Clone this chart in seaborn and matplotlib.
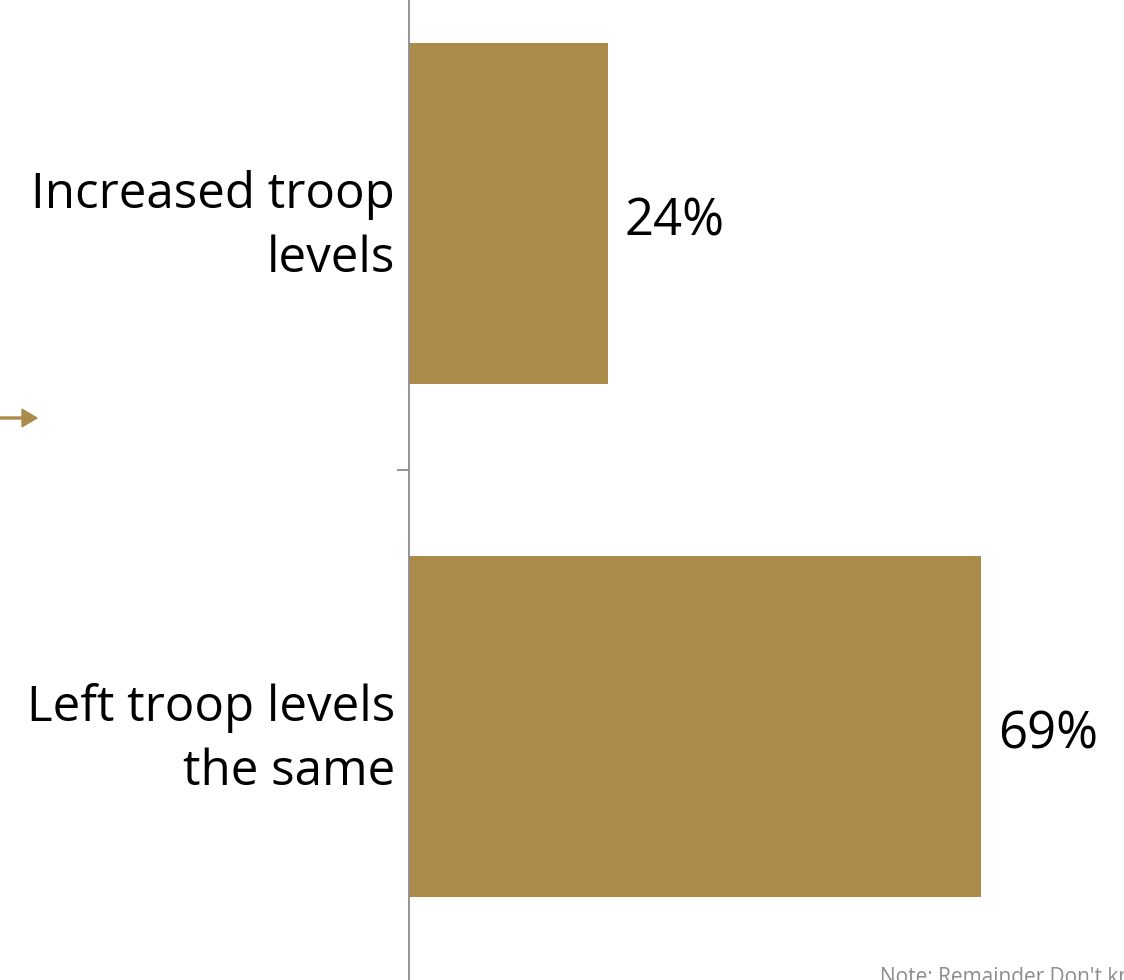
import matplotlib
matplotlib.use("Agg")
import matplotlib.pyplot as plt
import seaborn as sns
import pandas as pd

# data
categories = ["Increased troop\nlevels", "Left troop levels\nthe same"]
values = [24, 69]
value_labels = ["24%", "69%"]
note = "Note: Remainder Don't know/Refused"

bar_color = "#AA8B49"
axis_grey = "#8C8C8C"

sns.set_style("white")
plt.rcParams['font.family'] = ['Open Sans', 'DejaVu Sans']

df = pd.DataFrame({"cat": categories, "val": values})

fig = plt.figure(figsize=(11.24, 9.8), dpi=100)
# the chart is a crop of a bigger slide: axes runs past the top/bottom/right edges
ax = fig.add_axes([409 / 1124, -3 / 980, 715 / 1124, 1026 / 980])

sns.barplot(data=df, x="val", y="cat", ax=ax, color=bar_color,
            width=0.665, saturation=1, linewidth=0, orient="h")

ax.set_xlim(0, 715 / 8.29)
ax.set_ylim(1.5, -0.5)
ax.set_xlabel("")
ax.set_ylabel("")
ax.set_xticks([])

for s in ["top", "right", "bottom"]:
    ax.spines[s].set_visible(False)
ax.spines["left"].set_color(axis_grey)
ax.spines["left"].set_linewidth(1.3)

ax.tick_params(axis="y", which="major", left=False, length=0, pad=10,
               labelsize=35.5, labelcolor="black")
for lbl in ax.get_yticklabels():
    lbl.set_horizontalalignment("right")
    lbl.set_linespacing(1.4)
# tick marks sit between the categories
ax.set_yticks([-0.5, 0.5, 1.5], minor=True)
ax.tick_params(axis="y", which="minor", left=True, length=9, width=1.3,
               color=axis_grey, direction="out")

txts = ax.bar_label(ax.containers[0], labels=value_labels, padding=12,
                    fontsize=36.5, color="black")
for t in txts:
    t.xyann = (12, -6)  # nudge a bit below bar centre, like the original

# small arrow on the left edge
fig.patches.append(matplotlib.patches.FancyArrow(
    0, 1 - 418 / 980, 37 / 1124, 0, width=0.002, head_width=0.018,
    head_length=15 / 1124, length_includes_head=True,
    color=bar_color, transform=fig.transFigure, figure=fig))

fig.text(880 / 1124, 1 - 988 / 980, note, fontsize=15, color="#8C8C8C",
         ha="left", va="bottom")

fig.savefig("out.png", dpi=100)
